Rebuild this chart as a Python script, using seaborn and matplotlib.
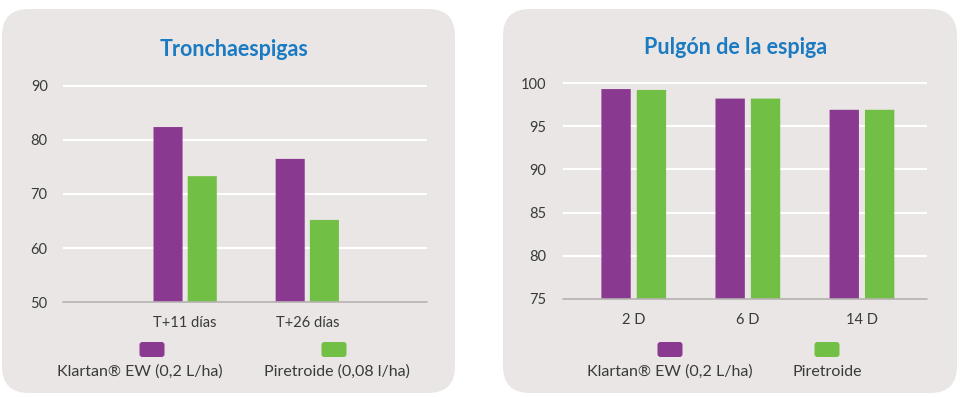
import matplotlib
matplotlib.use("Agg")
import matplotlib.pyplot as plt
import pandas as pd
import seaborn as sns
from matplotlib.patches import FancyBboxPatch

# --- data ---
left_title = "Tronchaespigas"
left_cats = ["T+11 días", "T+26 días"]
left_klartan = [82.4, 76.5]
left_piretroide = [73.3, 65.2]
left_series = ["Klartan® EW (0,2 L/ha)", "Piretroide (0,08 l/ha)"]
left_yticks = [50, 60, 70, 80, 90]

right_title = "Pulgón de la espiga"
right_cats = ["2 D", "6 D", "14 D"]
right_klartan = [99.3, 98.2, 96.9]
right_piretroide = [99.2, 98.2, 96.9]
right_series = ["Klartan® EW (0,2 L/ha)", "Piretroide"]
right_yticks = [75, 80, 85, 90, 95, 100]

PURPLE = "#8a3990"
GREEN = "#71bf44"
PANEL = "#eae6e5"
BLUE = "#1a7bc2"
TXT = "#3a3a3a"

sns.set_theme(style="white")
plt.rcParams["font.family"] = ["Lato", "DejaVu Sans"]

W, H = 960, 397
fig = plt.figure(figsize=(W / 100, H / 100), dpi=100)
fig.patch.set_facecolor("white")


def px(x, y):
    # pixel (from top-left) -> figure fraction
    return x / W, 1 - y / H


def panel(x0, y0, x1, y1):
    fx0, fy1 = px(x0, y0)
    fx1, fy0 = px(x1, y1)
    p = FancyBboxPatch((fx0, fy0), fx1 - fx0, fy1 - fy0,
                       boxstyle="round,pad=0,rounding_size=0.028",
                       mutation_aspect=W / H, transform=fig.transFigure,
                       fc=PANEL, ec="none", zorder=-5)
    fig.patches.append(p)


def make_chart(ax, cats, s1, s2, names, yticks, ylim, xlim, width, gap):
    df = pd.DataFrame({
        "cat": cats * 2,
        "val": s1 + s2,
        "serie": [names[0]] * len(cats) + [names[1]] * len(cats),
    })
    sns.barplot(data=df, x="cat", y="val", hue="serie", order=cats,
                hue_order=names, palette=[PURPLE, GREEN], width=width,
                gap=gap, legend=False, ax=ax, saturation=1)
    ax.set_facecolor("none")
    ax.set_ylim(*ylim)
    ax.set_xlim(*xlim)
    # rounded bars rebuilt from seaborn's rectangles
    fig.canvas.draw()
    t = ax.transData
    (x0p, y0p), (x1p, y1p) = t.transform([(0, 0), (1, 1)])
    aspect = abs((x1p - x0p) / (y1p - y0p))
    for bar in list(ax.patches):
        bx, bw, bh = bar.get_x(), bar.get_width(), bar.get_height()
        col = bar.get_facecolor()
        bar.remove()
        rb = FancyBboxPatch((bx, ylim[0]), bw, bh - ylim[0],
                            boxstyle="round,pad=0,rounding_size=%f" % (bw * 0.12),
                            mutation_aspect=1 / aspect,
                            fc=col, ec="none", zorder=3)
        ax.add_patch(rb)
    for y in yticks[1:]:
        ax.axhline(y, color="white", lw=1.5, zorder=1)
    ax.axhline(yticks[0], color="#b5b2b1", lw=1.2, zorder=4, clip_on=False)
    ax.set_yticks(yticks)
    ax.set_xlabel("")
    ax.set_ylabel("")
    for s in ax.spines.values():
        s.set_visible(False)
    ax.tick_params(axis="both", length=0, labelsize=10.5, colors=TXT)
    ax.tick_params(axis="x", pad=10)


def legend(items):
    for (cx, lab, col, tx) in items:
        fx, fy = px(cx - 12.5, 357)
        sq = FancyBboxPatch((fx, fy), 25 / W, 15 / H,
                            boxstyle="round,pad=0,rounding_size=0.003",
                            mutation_aspect=W / H, transform=fig.transFigure,
                            fc=col, ec="none", zorder=5)
        fig.patches.append(sq)
        fig.text(*px(tx, 372), lab, ha="center", va="center",
                 fontsize=11.5, color=TXT)


panel(2, 9, 455, 393)
panel(503, 9, 957, 393)

# left chart
l0, b0 = px(63, 302)
axl = fig.add_axes([l0, b0, 364 / W, 221.4 / H])
make_chart(axl, left_cats, left_klartan, left_piretroide, left_series,
           left_yticks, (50, 91), (-1.0, 1.98), 0.56, 0.15)
axl.tick_params(axis="y", pad=11)
fig.text(*px(234, 49), left_title, ha="center", va="center",
         fontsize=15.5, fontweight="bold", color=BLUE)
legend([(152, left_series[0], PURPLE, 140), (334, left_series[1], GREEN, 337)])

# right chart
r0, rb0 = px(563, 299)
axr = fig.add_axes([r0, rb0, 364 / W, 220.3 / H])
make_chart(axr, right_cats, right_klartan, right_piretroide, right_series,
           right_yticks, (75, 100.5), (-0.62, 2.57), 0.62, 0.17)
axr.tick_params(axis="y", pad=12)
fig.text(*px(736, 47), right_title, ha="center", va="center",
         fontsize=15.5, fontweight="bold", color=BLUE)
legend([(670, right_series[0], PURPLE, 670), (827, right_series[1], GREEN, 827)])

fig.savefig("out.png", dpi=100, facecolor="white")
